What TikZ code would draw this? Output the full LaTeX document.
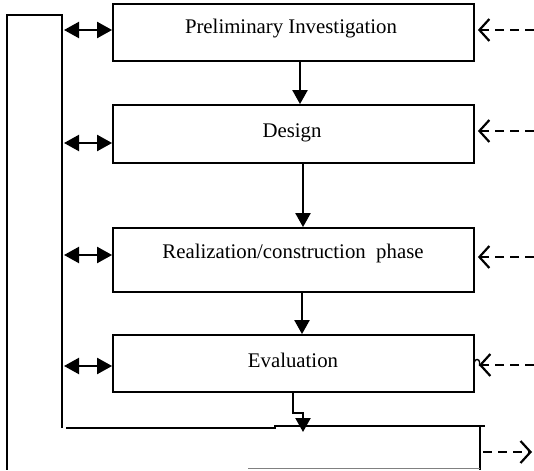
\documentclass[tikz,border=0pt]{standalone}
\usepackage{fontspec}
\setmainfont{Liberation Serif}
\usetikzlibrary{arrows.meta}
\begin{document}
\begin{tikzpicture}[x=1pt,y=-1pt,
  box/.style={draw,line width=1.8pt,minimum width=361pt,inner sep=0pt},
  lbl/.style={inner sep=0pt,font=\fontsize{20.8}{24}\selectfont},
  dbl/.style={line width=2.2pt,{Triangle[length=15pt,width=16pt]}-{Triangle[length=15pt,width=16pt]}},
  down/.style={line width=2.2pt,-{Triangle[length=14pt,width=15pt]}},
  dsh/.style={line width=2.2pt,dash pattern=on 9pt off 6pt,-{Straight Barb[length=10pt,width=22pt,line width=2.2pt]}},
  ln/.style={line width=2.4pt}]
\useasboundingbox (0,0) rectangle (534,470);
\node[box,minimum height=57pt] (b1) at (293.5,32.5) {};
\node[box,minimum height=58pt] (b2) at (293.5,134) {};
\node[box,minimum height=64pt] (b3) at (293.5,260) {};
\node[box,minimum height=57pt] (b4) at (293.5,363.5) {};
\node[lbl] (t1) at (291,29) {Preliminary Investigation};
\node[lbl] (t2) at (292,133) {Design};
\node[lbl] (t3) at (293,253) {Realization/construction\ \ phase};
\node[lbl] (t4) at (293,360) {Evaluation};
% left frame
\coordinate (l1) at (62,428);
\coordinate (l2) at (62,15);
\coordinate (l3) at (7,15);
\coordinate (l4) at (7,470);
\draw[ln] (l1) -- (l2) -- (l3) -- (l4);
% bottom box (partial)
\coordinate (p1) at (66,428);
\coordinate (p2) at (275,428);
\coordinate (p3) at (275,426);
\coordinate (p4) at (485,426);
\draw[ln] (p1) -- (p2) -- (p3) -- (p4);
\coordinate (r1) at (480,426);
\coordinate (r2) at (480,470);
\draw[ln] (r1) -- (r2);
\coordinate (bb1) at (248,468.5);
\coordinate (bb2) at (480,468.5);
\draw[line width=1.4pt,gray] (bb1) -- (bb2);
% double arrows
\foreach \b/\yy in {b1/30,b2/143,b3/255,b4/366}{
  \coordinate (s\b) at (64,\yy);
  \draw[dbl] (s\b) -- (s\b -| \b.west);
}
% vertical arrows
\draw[down] ([xshift=6.5pt]b1.south) -- ([xshift=6.5pt]b2.north);
\draw[down] ([xshift=9.5pt]b2.south) -- ([xshift=9.5pt]b3.north);
\draw[down] ([xshift=8.5pt]b3.south) -- ([xshift=8.5pt]b4.north);
\coordinate (e1) at (293,413);
\coordinate (e2) at (303,413);
\coordinate (e3) at (303,432);
\draw[down] ([xshift=-0.5pt]b4.south) -- (e1) -- (e2) -- (e3);
% right dashed arrows
\foreach \b/\yy in {b1/30,b2/131,b3/257}{
  \coordinate (d\b) at (534,\yy);
  \draw[dsh] (d\b) -- ([xshift=3pt]d\b -| \b.east);
}
\coordinate (db4) at (534,365);
\draw[dsh] (db4) -- ([xshift=4pt]db4 -| b4.east);
\coordinate (hop) at (474.5,362);
\draw[line width=1.4pt] (hop) arc[start angle=180,end angle=0,radius=2.5pt] -- ++(0,4);
\coordinate (o1) at (483,452);
\coordinate (o2) at (532,452);
\draw[dsh] (o1) -- (o2);
\end{tikzpicture}
\end{document}
